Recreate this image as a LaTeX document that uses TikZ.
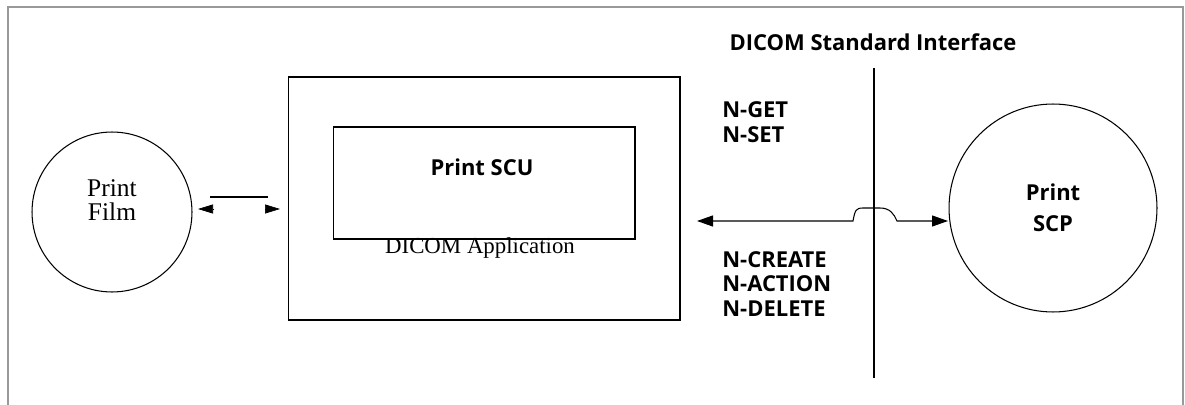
\documentclass[tikz,border=0pt]{standalone}
\usepackage{fontspec}
\setmainfont{Liberation Serif}
\newfontfamily\sansbold{Open Sans}
\usetikzlibrary{arrows.meta,calc}

\tikzset{
    box/.style = {draw, line width=0.6pt, inner sep=0pt},
    ring/.style = {draw, circle, line width=0.6pt, inner sep=0pt},
    boldlbl/.style = {font=\sansbold\bfseries\fontsize{12.5}{14}\selectfont, inner sep=0pt},
    serlbl/.style = {font=\fontsize{13}{13}\selectfont, align=center, inner sep=0pt},
    bothtips/.style = {{Triangle[length=0.32cm,width=0.22cm]}-{Triangle[length=0.32cm,width=0.22cm]}},
    halftip/.style = {-{Triangle[length=0.3cm,width=0.18cm]}},
}

\begin{document}
\begin{tikzpicture}[x=0.02cm, y=-0.02cm]
    \useasboundingbox (0,0) rectangle (1185,405);
    \draw[gray!80, line width=0.8pt] (8,405) -- (8,7) -- (1183,7) -- (1183,405);

    \node[ring, minimum size=3.2cm] (film) at (112,212) {};
    \node[serlbl, font=\fontsize{14.5}{13.5}\selectfont] (filmtxt) at (112,200) {Print\\Film};

    \node[box, minimum width=7.84cm, minimum height=4.86cm] (app) at (484,198.5) {};
    \node[box, minimum width=6.04cm, minimum height=2.24cm] (scu) at (484,183) {};
    \node[boldlbl] (scutxt) at (482,167) {Print SCU};
    \node[serlbl] (apptxt) at (480,248) {DICOM Application};

    \node[ring, minimum size=4.16cm] (scp) at (1053,208) {};
    \node[boldlbl, align=center, font=\sansbold\bfseries\fontsize{12.5}{17.5}\selectfont] (scptxt) at (1053,208) {Print\\SCP};

    \node[boldlbl] (iftxt) at (873,42) {DICOM Standard Interface};
    \coordinate (ifTop) at (874,68);
    \coordinate (ifBot) at (874,378);
    \draw[line width=0.6pt] (ifTop) -- (ifBot);

    \node[boldlbl, align=left, anchor=west] (getset) at (722,122) {N-GET\\N-SET};
    \node[boldlbl, align=left, anchor=west] (others) at (722,284) {N-CREATE\\N-ACTION\\N-DELETE};

    \coordinate (appR) at (697,221);
    \coordinate (scpL) at (948,221);
    \draw[bothtips, line width=0.6pt] (appR) -- (853,221)
        .. controls (855,210) and (856,208) .. (863,208) -- (880,208)
        .. controls (890,208) and (894,214) .. (897,221) -- (scpL);

    \coordinate (lnL) at (210,197);
    \coordinate (lnR) at (268,197);
    \draw[line width=0.8pt] (lnL) -- (lnR);
    \coordinate (tipL) at (198,209);
    \coordinate (tipR) at (280,209);
    \draw[halftip] ($(tipL)+(15,0)$) -- (tipL);
    \draw[halftip] ($(tipR)+(-15,0)$) -- (tipR);
\end{tikzpicture}
\end{document}
